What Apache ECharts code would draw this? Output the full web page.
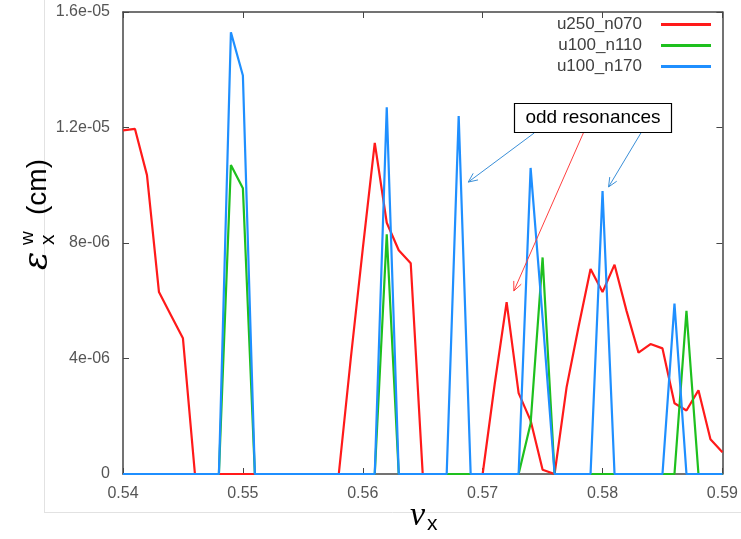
<!DOCTYPE html>
<html><head><meta charset="utf-8">
<script src="https://cdn.jsdelivr.net/npm/echarts@6/dist/echarts.min.js"></script>
<style>html,body{margin:0;padding:0;background:#fff}#c{width:741px;height:539px}</style>
</head><body><div id="c"></div><script>
const nu = [0.540,0.541,0.542,0.543,0.544,0.545,0.546,0.547,0.548,0.549,
            0.550,0.551,0.552,0.553,0.554,0.555,0.556,0.557,0.558,0.559,
            0.560,0.561,0.562,0.563,0.564,0.565,0.566,0.567,0.568,0.569,
            0.570,0.571,0.572,0.573,0.574,0.575,0.576,0.577,0.578,0.579,
            0.580,0.581,0.582,0.583,0.584,0.585,0.586,0.587,0.588,0.589,0.590];
const u250_n070 = [1.19e-5,1.195e-5,1.035e-5,6.3e-6,5.5e-6,4.7e-6,0,0,0,0,
                   0,0,0,0,0,0,0,0,0,4.0e-6,
                   7.8e-6,1.147e-5,8.7e-6,7.75e-6,7.3e-6,0,0,0,0,0,
                   0,3.1e-6,5.95e-6,2.8e-6,1.85e-6,1.5e-7,0,3.0e-6,5.1e-6,7.1e-6,
                   6.3e-6,7.25e-6,5.65e-6,4.2e-6,4.5e-6,4.35e-6,2.45e-6,2.2e-6,2.9e-6,1.2e-6,7.5e-7];
const u100_n110 = [0,0,0,0,0,0,0,0,0,1.07e-5,
                   9.9e-6,0,0,0,0,0,0,0,0,0,
                   0,0,8.3e-6,0,0,0,0,0,0,0,
                   0,0,0,0,1.75e-6,7.5e-6,0,0,0,0,
                   0,0,0,0,0,0,0,5.65e-6,0,0,0];
const u100_n170 = [0,0,0,0,0,0,0,0,0,1.53e-5,
                   1.38e-5,0,0,0,0,0,0,0,0,0,
                   0,0,1.27e-5,0,0,0,0,0,1.24e-5,0,
                   0,0,0,0,1.06e-5,5.4e-6,0,0,0,0,
                   9.8e-6,0,0,0,0,0,5.9e-6,0,0,0,0];
const seriesNames = ['u250_n070','u100_n110','u100_n170'];
const seriesColors = ['#ff1a1a','#1ec01e','#1f8fff'];
const xTickLabels = ['0.54','0.55','0.56','0.57','0.58','0.59'];
const yTickLabels = ['0','4e-06','8e-06','1.2e-05','1.6e-05'];
const annotationText = 'odd resonances';
// arrows in data coordinates: [start, end]
const arrowBlue1 = [[0.5743,1.181e-5],[0.5688,1.011e-5]];
const arrowRed   = [[0.5784,1.181e-5],[0.5726,6.34e-6]];
const arrowBlue2 = [[0.5832,1.181e-5],[0.5805,9.94e-6]];

const chart = echarts.init(document.getElementById('c'));
const axisCol = '#454545';
const pair = arr => nu.map((x,i)=>[x,arr[i]]);
const baseX = {type:'value',min:0.54,max:0.59,interval:0.01,
  axisLine:{show:true,onZero:false,lineStyle:{color:axisCol,width:1.5}},
  axisTick:{show:true,inside:true,length:6,lineStyle:{color:axisCol,width:1}},
  splitLine:{show:false}};
const baseY = {type:'value',min:0,max:1.6e-5,interval:4e-6,
  axisLine:{show:true,onZero:false,lineStyle:{color:axisCol,width:1.5}},
  axisTick:{show:true,inside:true,length:6,lineStyle:{color:axisCol,width:1}},
  splitLine:{show:false}};
const lbl = {fontSize:16,color:'#555',fontFamily:'Liberation Sans'};
chart.setOption({
  animation:false,
  backgroundColor:'#fff',
  grid:{left:123,top:12,right:16,bottom:65},
  legend:{orient:'vertical',right:25,top:11,align:'right',itemWidth:50,itemHeight:3,itemGap:4,
    icon:'rect',
    data:seriesNames,
    textStyle:{fontSize:17,color:'#404040',fontFamily:'Liberation Sans',padding:[0,14,0,0]}},
  xAxis:[Object.assign({},baseX,{position:'bottom',
      axisLabel:Object.assign({margin:12,formatter:v=>xTickLabels[Math.round((v-0.54)/0.01)]},lbl)}),
    Object.assign({},baseX,{position:'top',axisLabel:{show:false}})],
  yAxis:[Object.assign({},baseY,{position:'left',
      axisLabel:Object.assign({margin:13,formatter:v=>yTickLabels[Math.round(v/4e-6)]},lbl)}),
    Object.assign({},baseY,{position:'right',axisLabel:{show:false}})],
  series:[
    {name:seriesNames[0],type:'line',data:pair(u250_n070),symbol:'none',color:seriesColors[0],lineStyle:{width:2.2,color:seriesColors[0]},z:2},
    {name:seriesNames[1],type:'line',data:pair(u100_n110),symbol:'none',color:seriesColors[1],lineStyle:{width:2.2,color:seriesColors[1]},z:3},
    {name:seriesNames[2],type:'line',data:pair(u100_n170),symbol:'none',color:seriesColors[2],lineStyle:{width:2.2,color:seriesColors[2]},z:4}
  ]
});

function arrowGraphics(a,color){
  const p0 = chart.convertToPixel({gridIndex:0},a[0]);
  const p1 = chart.convertToPixel({gridIndex:0},a[1]);
  const ang = Math.atan2(p1[1]-p0[1],p1[0]-p0[0]);
  const L = 10, sp = 0.42;
  const h1 = [p1[0]-L*Math.cos(ang-sp),p1[1]-L*Math.sin(ang-sp)];
  const h2 = [p1[0]-L*Math.cos(ang+sp),p1[1]-L*Math.sin(ang+sp)];
  return [
    {type:'line',shape:{x1:p0[0],y1:p0[1],x2:p1[0],y2:p1[1]},style:{stroke:color,lineWidth:1},z:100},
    {type:'polyline',shape:{points:[h1,p1,h2]},style:{stroke:color,lineWidth:1,fill:null},z:100}
  ];
}
const g = [];
// faint slide frame lines
g.push({type:'line',shape:{x1:44.5,y1:0,x2:44.5,y2:512},style:{stroke:'#e2e2e2',lineWidth:1},z:0});
g.push({type:'line',shape:{x1:44,y1:512.5,x2:741,y2:512.5},style:{stroke:'#e2e2e2',lineWidth:1},z:0});
g.push(...arrowGraphics(arrowBlue1,'#3a8fd8'));
g.push(...arrowGraphics(arrowRed,'#ff4040'));
g.push(...arrowGraphics(arrowBlue2,'#3a8fd8'));
// annotation box
g.push({type:'rect',shape:{x:514.5,y:103.5,width:157,height:29},style:{fill:'#fff',stroke:'#000',lineWidth:1.2},z:101});
g.push({type:'text',x:593,y:118,style:{text:annotationText,font:'19px "Liberation Sans"',fill:'#000',align:'center',verticalAlign:'middle'},z:102});
// y axis title (rotated)
g.push({type:'group',x:38,y:270,rotation:Math.PI/2,z:50,children:[
  {type:'text',x:0,y:0,style:{text:'\u03B5',font:'italic 34px "DejaVu Serif"',fill:'#000',verticalAlign:'middle'}},
  {type:'text',x:25,y:-10,style:{text:'w',font:'19px "Liberation Sans"',fill:'#000',verticalAlign:'middle'}},
  {type:'text',x:25,y:10,style:{text:'x',font:'21px "Liberation Sans"',fill:'#000',verticalAlign:'middle'}},
  {type:'text',x:55,y:0,style:{text:'(cm)',font:'28px "Liberation Sans"',fill:'#000',verticalAlign:'middle'}}
]});
// x axis title
g.push({type:'group',x:410,y:516,z:50,children:[
  {type:'text',x:0,y:0,style:{text:'\u03BD',font:'italic 34px "Liberation Serif"',fill:'#000',verticalAlign:'middle'}},
  {type:'text',x:17,y:8,style:{text:'x',font:'21px "Liberation Sans"',fill:'#000',verticalAlign:'middle'}}
]});
chart.setOption({graphic:g});
</script></body></html>
